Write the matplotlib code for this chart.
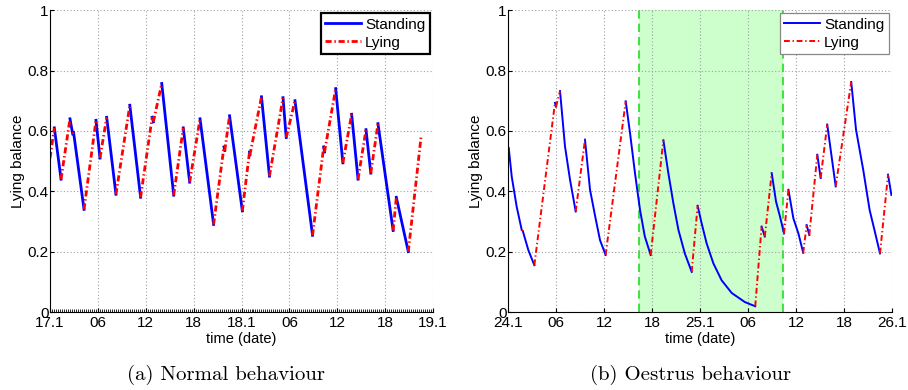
import matplotlib
matplotlib.use('Agg')
import matplotlib.pyplot as plt
import numpy as np
from matplotlib.ticker import MultipleLocator

# Lying balance over two days; hours since the first tick.
# state[i] is the behaviour between point i and point i+1 (S = standing, L = lying)
normal_hours = [0.0, 0.54, 1.38, 2.50, 2.84, 2.95, 4.26, 5.76, 6.26, 7.10,
                8.26, 10.0, 11.35, 12.80, 12.95, 14.0, 15.5, 16.7, 17.5, 18.8,
                20.5, 21.8, 21.9, 22.5, 24.1, 25.0, 25.05, 26.5, 27.5, 29.2,
                29.6, 30.7, 32.9, 34.3, 34.4, 35.8, 36.7, 37.8, 38.6, 39.6,
                40.2, 41.1, 43.0, 43.4, 44.9, 46.5]
normal_balance = [0.51, 0.61, 0.44, 0.64, 0.59, 0.595, 0.34, 0.635, 0.51, 0.645,
                  0.39, 0.685, 0.38, 0.645, 0.63, 0.757, 0.387, 0.61, 0.43, 0.64,
                  0.29, 0.547, 0.535, 0.65, 0.335, 0.53, 0.52, 0.713, 0.45, 0.71,
                  0.578, 0.70, 0.254, 0.547, 0.53, 0.74, 0.494, 0.655, 0.44, 0.604,
                  0.46, 0.624, 0.27, 0.38, 0.20, 0.58]
normal_state = ("LSLSLSLSLS" "LSLSLSLSLS" "LSLSLSLSLS" "LSLSLSLSLS" "LSLSL")

oestrus_hours = [0.09, 0.46, 1.08, 1.71, 1.85, 2.54, 3.29, 5.87, 6.0, 6.5,
                 7.12, 7.75, 8.46, 9.62, 10.25, 10.9, 11.5, 12.2, 14.71, 15.25,
                 15.87, 16.5, 17.1, 17.83, 19.42, 20.04, 20.67, 21.3, 22.1, 22.96,
                 23.7, 24.2, 24.83, 25.67, 26.7, 27.96, 29.6, 30.9, 31.7, 32.1,
                 32.96, 33.5, 34.0, 34.5, 35.05, 35.67, 36.3, 36.9, 37.33, 37.66,
                 38.66, 39.08, 39.9, 40.96, 42.9, 43.5, 44.4, 45.2, 45.8, 46.5,
                 47.5, 47.92]
oestrus_balance = [0.543, 0.449, 0.349, 0.272, 0.268, 0.205, 0.155, 0.693, 0.68, 0.732,
                   0.549, 0.438, 0.333, 0.571, 0.405, 0.316, 0.238, 0.189, 0.698, 0.593,
                   0.46, 0.338, 0.25, 0.189, 0.569, 0.46, 0.36, 0.272, 0.194, 0.133,
                   0.352, 0.294, 0.227, 0.161, 0.105, 0.063, 0.033, 0.019, 0.283, 0.25,
                   0.46, 0.366, 0.316, 0.26, 0.405, 0.31, 0.26, 0.196, 0.288, 0.255,
                   0.521, 0.444, 0.621, 0.416, 0.762, 0.604, 0.471, 0.338, 0.272, 0.194,
                   0.455, 0.388]
oestrus_state = ("SSSLSSLSLS" "SSLSSSSLSS" "SSSLSSSSSL" "SSSSSSSLSL"
                 "SSSLSSSLSL" "SLSLSSSSSL" "S")

oestrus_window = (16.4, 34.43)

normal_labels = ['17.1', '06', '12', '18', '18.1', '06', '12', '18', '19.1']
oestrus_labels = ['24.1', '06', '12', '18', '25.1', '06', '12', '18', '26.1']
tick_hours = [0, 6, 12, 18, 24, 30, 36, 42, 48]

STAND_COLOR = '#0000ff'
LIE_COLOR = '#ff0000'

plt.rcParams['font.family'] = ['Liberation Sans', 'DejaVu Sans']


def split_states(hours, balance, state, wanted):
    """Return x/y with NaN gaps so only segments of one state are drawn"""
    assert len(state) == len(hours) - 1 == len(balance) - 1
    xs, ys = [], []
    for i, s in enumerate(state):
        if s != wanted:
            continue
        if xs and xs[-1] == hours[i]:
            xs.append(hours[i + 1])
            ys.append(balance[i + 1])
        else:
            if xs:
                xs.append(np.nan)
                ys.append(np.nan)
            xs += [hours[i], hours[i + 1]]
            ys += [balance[i], balance[i + 1]]
    return xs, ys


def draw_panel(ax, hours, balance, state, labels, lw, dash, legend_edge, legend_lw):
    sx, sy = split_states(hours, balance, state, 'S')
    lx, ly = split_states(hours, balance, state, 'L')
    ax.plot(sx, sy, color=STAND_COLOR, linewidth=lw, label='Standing')
    ax.plot(lx, ly, color=LIE_COLOR, linewidth=lw, linestyle=dash, label='Lying')

    ax.set_xlim(0, 48)
    ax.set_ylim(0, 1)
    ax.set_xticks(tick_hours)
    ax.set_xticklabels(labels)
    ax.set_yticks([0, 0.2, 0.4, 0.6, 0.8, 1.0])
    ax.set_yticklabels(['0', '0.2', '0.4', '0.6', '0.8', '1'])
    ax.tick_params(direction='in', length=3, labelsize=11, pad=1)
    ax.tick_params(axis='x', pad=3)
    ax.grid(True, color='#a0a0a0', linestyle=(0, (1, 2)), linewidth=0.8)
    for side in ['top', 'right']:
        ax.spines[side].set_visible(False)
    ax.set_xlabel('time (date)', fontsize=10.5, labelpad=1)
    ax.set_ylabel('Lying balance', fontsize=11, labelpad=2)

    leg = ax.legend(loc='upper right', fontsize=11, fancybox=False,
                    framealpha=1, borderpad=0.3, labelspacing=0.25,
                    handlelength=2.3, handletextpad=0.3, borderaxespad=0.2)
    leg.get_frame().set_edgecolor(legend_edge)
    leg.get_frame().set_linewidth(legend_lw)


fig = plt.figure(figsize=(9.08, 3.9), dpi=100)
ax1 = fig.add_axes([0.0551, 0.2, 0.4218, 0.774])
ax2 = fig.add_axes([0.5595, 0.2, 0.4229, 0.774])

draw_panel(ax1, normal_hours, normal_balance, normal_state, normal_labels,
           2.0, (0, (2.2, 1.0, 0.5, 1.0)), 'black', 1.6)
# dense minor ticks along the bottom axis of the first panel
ax1.xaxis.set_minor_locator(MultipleLocator(0.25))
ax1.tick_params(axis='x', which='minor', direction='in', length=2, width=0.6)

ax2.axvspan(*oestrus_window, color='#ccffcc', zorder=0, linewidth=0)
for x in oestrus_window:
    ax2.axvline(x, color='#22dd22', linestyle=(0, (5, 3)), linewidth=1.2, zorder=1)
draw_panel(ax2, oestrus_hours, oestrus_balance, oestrus_state, oestrus_labels,
           1.4, (0, (3.0, 1.4, 0.7, 1.4)), '#888888', 0.9)

fig.text(0.249, 0.038, '(a) Normal behaviour', family='cmr10', fontsize=15,
         ha='center', va='center')
fig.text(0.76, 0.038, '(b) Oestrus behaviour', family='cmr10', fontsize=15,
         ha='center', va='center')

fig.savefig('out.png', dpi=100)
plt.close(fig)
